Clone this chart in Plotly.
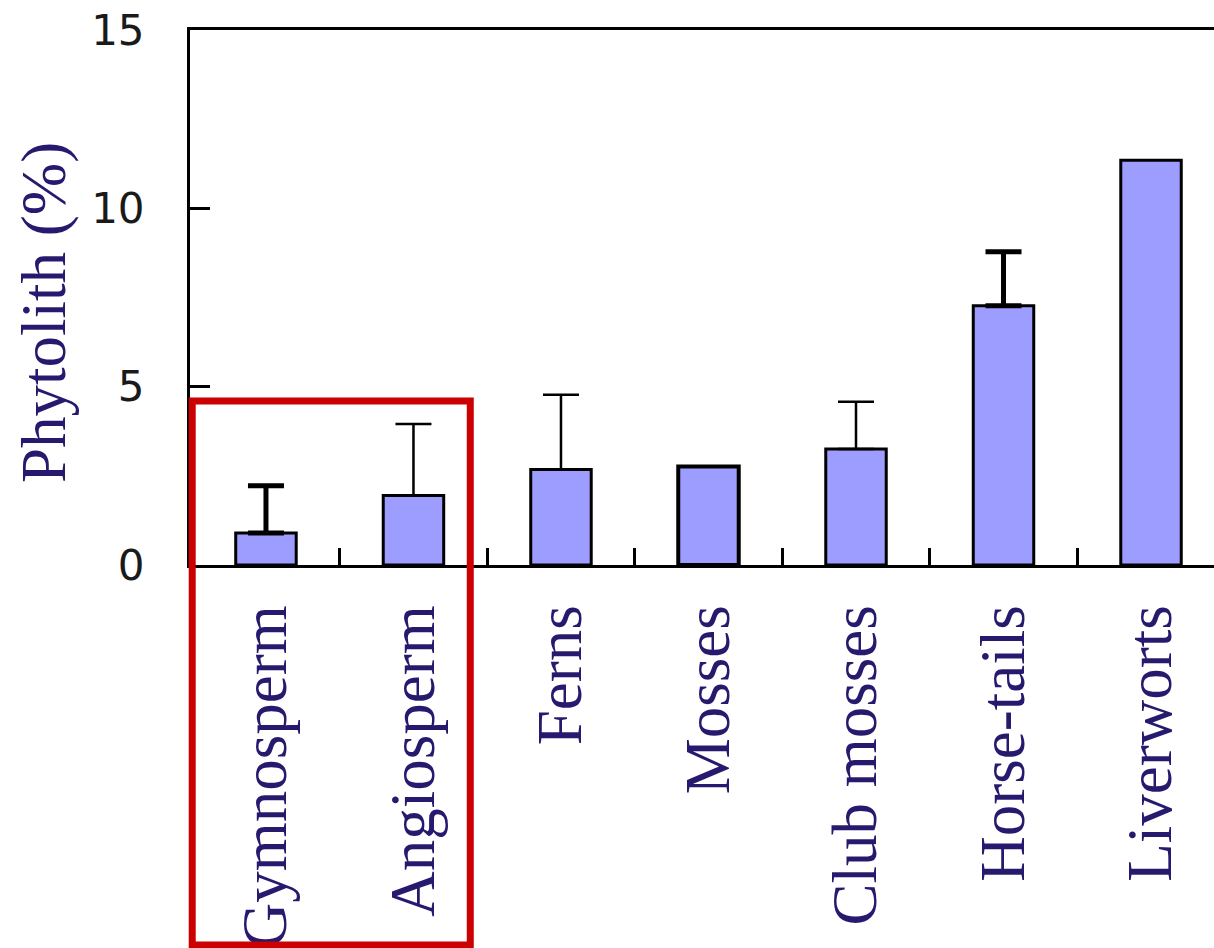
import plotly.graph_objects as go

# Phytolith content by plant group (mean % with upper error)
groups = ["Gymnosperm", "Angiosperm", "Ferns", "Mosses", "Club mosses", "Horse-tails", "Liverworts"]
phytolith = [0.9, 1.95, 2.68, 2.76, 3.25, 7.27, 11.35]

# upper error, split by how heavily the whisker is drawn
thick_err_groups = ["Gymnosperm", "Horse-tails"]
thick_err_values = [1.32, 1.51]
thin_err_groups = ["Angiosperm", "Ferns", "Club mosses"]
thin_err_values = [2.0, 2.09, 1.33]

y_ticks = [0, 5, 10, 15]

NAVY = "#261a6e"
BAR_FILL = "#9d9dff"
SERIF = "Liberation Serif, Times New Roman, serif"

W, H = 1214, 948
M_L, M_R, M_T, M_B = 190, 0, 30, 383
X_RANGE = [-0.515, 6.427]
Y_RANGE = [0, 15]

lookup = dict(zip(groups, phytolith))

fig = go.Figure()

fig.add_trace(go.Bar(
    x=groups, y=phytolith, width=0.41,
    marker=dict(color=BAR_FILL, line=dict(color="black", width=[3, 3, 3, 4, 3, 3, 3])),
    showlegend=False, hoverinfo="x+y",
))

for names, errs, thick in [(thick_err_groups, thick_err_values, 5),
                           (thin_err_groups, thin_err_values, 2.5)]:
    fig.add_trace(go.Scatter(
        x=names, y=[lookup[n] for n in names], mode="markers",
        marker=dict(size=1, color="rgba(0,0,0,0)"),
        error_y=dict(type="data", array=errs, arrayminus=[0] * len(errs),
                     symmetric=False, color="black", thickness=thick, width=18),
        showlegend=False, hoverinfo="skip",
    ))

# highlight box around the seed-plant groups
plot_w = W - M_L - M_R
plot_h = H - M_T - M_B
def px_x(v):
    return (v - X_RANGE[0]) / (X_RANGE[1] - X_RANGE[0])
fig.add_shape(type="rect", xref="paper", yref="paper",
              x0=px_x(-0.5), x1=px_x(1.385),
              y0=-380 / plot_h, y1=4.6 / Y_RANGE[1],
              line=dict(color="#cc0000", width=7), fillcolor="rgba(0,0,0,0)", layer="above")

fig.add_annotation(
    text="Phytolith (%)", textangle=-90, showarrow=False,
    xref="paper", yref="paper", x=(44 - M_L) / plot_w, y=(565 - 313) / plot_h,
    xanchor="center", yanchor="middle",
    font=dict(family=SERIF, size=63, color=NAVY),
)

fig.update_layout(
    width=W, height=H,
    margin=dict(l=M_L, r=M_R, t=M_T, b=M_B, pad=0),
    paper_bgcolor="white", plot_bgcolor="white",
    barmode="overlay",
    xaxis=dict(
        range=X_RANGE, type="category", showgrid=False, zeroline=False,
        showline=True, linecolor="black", linewidth=3, mirror=True,
        ticks="inside", tickson="boundaries", ticklen=17, tickwidth=3, tickcolor="black",
        tickangle=-90, tickfont=dict(family=SERIF, size=63, color=NAVY),
        ticklabelstandoff=12, automargin=False,
    ),
    yaxis=dict(
        range=Y_RANGE, tickvals=y_ticks, showgrid=False, zeroline=False,
        showline=True, linecolor="black", linewidth=3,
        ticks="inside", ticklen=20, tickwidth=3, tickcolor="black",
        tickfont=dict(family="DejaVu Sans", size=42, color="#1a1a1a"),
        ticklabelstandoff=34, automargin=False,
    ),
)

fig.write_html("out.html")
